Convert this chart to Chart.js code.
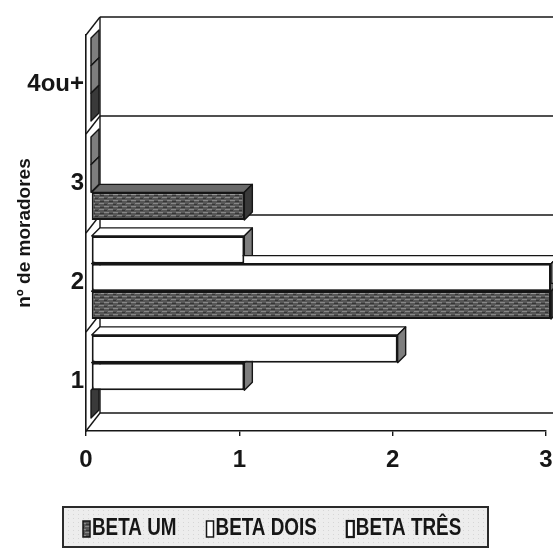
<!DOCTYPE html>
<html>
<head>
<meta charset="utf-8">
<script src="https://cdn.jsdelivr.net/npm/chart.js@4.4.1/dist/chart.umd.min.js"></script>
<style>
  html, body { margin: 0; padding: 0; background: #fff; }
  #wrap { width: 553px; height: 552px; }
  canvas { display: block; }
</style>
</head>
<body>
<div id="wrap"><canvas id="c" width="553" height="552"></canvas></div>
<script>
// Number of residents per household, by group
const categories = ['1', '2', '3', '4ou+'];
const seriesNames = ['BETA UM', 'BETA DOIS', 'BETA TRÊS'];
const betaUm   = [0, 3, 1, 0];
const betaDois = [1, 3, 0, 0];
const betaTres = [2, 1, 0, 0];
const valueTicks = [0, 1, 2, 3];
const axisTitle = 'nº de moradores';

const FONT = '"Liberation Sans", Arial, sans-serif';
const NARROW = '"Liberation Sans Narrow", "Liberation Sans", Arial, sans-serif';
const INK = '#161616';

const canvas = document.getElementById('c');
const ctx = canvas.getContext('2d');

// mottled dark-grey fill for the first series
function darkFill() {
  const p = document.createElement('canvas');
  p.width = 9; p.height = 6;
  const g = p.getContext('2d');
  g.fillStyle = '#575757'; g.fillRect(0, 0, 9, 6);
  g.fillStyle = '#888'; g.fillRect(0, 1, 5, 1); g.fillRect(4, 4, 5, 1);
  g.fillStyle = '#363636'; g.fillRect(5, 2, 4, 1); g.fillRect(0, 5, 3, 1);
  return ctx.createPattern(p, 'repeat');
}
const DARK = darkFill();

const seriesStyle = [
  { fill: DARK,   top: '#6a6a6a', side: '#3a3a3a' },
  { fill: '#fff', top: '#fff',    side: '#7e7e7e' },
  { fill: '#fff', top: '#fff',    side: '#7e7e7e' }
];

// the category axis runs top to bottom, so feed it reversed;
// the first series is listed last so it sits at the bottom of each group
const rev = a => a.slice().reverse();
const seriesData = [betaUm, betaDois, betaTres];
const datasets = [2, 1, 0].map(i => ({
  label: seriesNames[i],
  data: rev(seriesData[i]),
  backgroundColor: seriesStyle[i].fill,
  borderColor: INK,
  borderWidth: 2,
  borderSkipped: false,
  categoryPercentage: 0.84,
  barPercentage: 1,
  clip: false,
  styleIndex: i
}));

const FRONT = { x: 5, y: -5 };   // bar front plane, relative to the axis plane
const BAR_DEPTH = 8;             // depth of each bar
const WALL = { x: 14, y: -18 };  // back wall offset

function poly(c, pts, fill) {
  c.beginPath();
  c.moveTo(pts[0][0], pts[0][1]);
  for (let i = 1; i < pts.length; i++) c.lineTo(pts[i][0], pts[i][1]);
  c.closePath();
  if (fill) { c.fillStyle = fill; c.fill(); }
  c.stroke();
}
function seg(c, x1, y1, x2, y2) {
  c.beginPath(); c.moveTo(x1, y1); c.lineTo(x2, y2); c.stroke();
}

const depthPlugin = {
  id: 'depth',
  beforeDatasetsDraw(chart) {
    const c = chart.ctx, a = chart.chartArea;
    const xs = chart.scales.x, ys = chart.scales.y;
    const n = ys.ticks.length;
    const band = (a.bottom - a.top) / n;
    const x0 = xs.getPixelForValue(0);

    // back wall, side wall and floor edges
    c.save();
    c.strokeStyle = INK;
    c.lineWidth = 1.4;
    for (let k = 0; k <= n; k++) {
      const yb = a.top + k * band;
      seg(c, x0 + WALL.x, yb + WALL.y, chart.width + 20, yb + WALL.y);
      seg(c, x0, yb, x0 + WALL.x, yb + WALL.y);
    }
    seg(c, x0 + WALL.x, a.top + WALL.y, x0 + WALL.x, a.bottom + WALL.y);
    c.restore();

    // bars: top and end faces first, the library paints the front faces over them
    c.save();
    c.translate(FRONT.x, FRONT.y);
    c.strokeStyle = INK;
    c.lineWidth = 1.4;
    c.lineJoin = 'round';
    chart.data.datasets.forEach((ds, di) => {
      const meta = chart.getDatasetMeta(di);
      const st = seriesStyle[ds.styleIndex];
      meta.data.forEach(el => {
        const p = el.getProps(['x', 'y', 'base', 'height'], true);
        const top = p.y - p.height / 2, bot = p.y + p.height / 2;
        const l = Math.min(p.base, p.x), r = Math.max(p.base, p.x);
        const d = BAR_DEPTH;
        if (r > l) poly(c, [[l, top], [r, top], [r + d, top - d], [l + d, top - d]], st.top);
        poly(c, [[r, top], [r, bot], [r + d, bot - d], [r + d, top - d]], st.side);
      });
    });
  },
  afterDatasetsDraw(chart) {
    chart.ctx.restore();
  }
};

// boxed legend under the plot
const legendPlugin = {
  id: 'boxLegend',
  afterDraw(chart) {
    const c = chart.ctx;
    const bw = 425, bh = 40;
    const bx = Math.round((chart.width - bw) / 2) - 1, by = chart.height - 45;
    c.save();
    c.fillStyle = '#ededed';
    c.fillRect(bx, by, bw, bh);
    c.fillStyle = '#d6d6d6';
    for (let yy = by + 3; yy < by + bh; yy += 4)
      for (let xx = bx + 3 + ((yy - by) % 8 ? 2 : 0); xx < bx + bw; xx += 5) c.fillRect(xx, yy, 1, 1);
    c.strokeStyle = '#2a2a2a';
    c.lineWidth = 2;
    c.strokeRect(bx, by, bw, bh);

    c.font = 'bold 23px ' + NARROW;
    const narrowW = c.measureText('BETA DOIS').width;
    c.font = 'bold 23px ' + FONT;
    const regularW = c.measureText('BETA DOIS').width;
    const squeeze = Math.abs(narrowW - regularW) < 0.5 ? 0.82 : 1;
    c.font = 'bold 23px ' + NARROW;

    const cy = by + bh / 2 + 2;
    let x = bx + 20;
    seriesNames.forEach((name, i) => {
      c.fillStyle = seriesStyle[i].fill;
      c.strokeStyle = INK;
      c.lineWidth = i === 2 ? 2.2 : 1.5;
      c.fillRect(x, cy - 8, 7, 16);
      c.strokeRect(x, cy - 8, 7, 16);
      const tx = x + 9;
      const w = c.measureText(name).width * squeeze;
      c.save();
      c.translate(tx, cy);
      c.scale(squeeze, 1);
      c.fillStyle = INK;
      c.textBaseline = 'middle';
      c.textAlign = 'left';
      c.fillText(name, 0, 0);
      c.restore();
      x = tx + w + 30;
    });
    c.restore();
  }
};

new Chart(canvas, {
  type: 'bar',
  data: { labels: rev(categories), datasets },
  options: {
    indexAxis: 'y',
    responsive: false,
    animation: false,
    devicePixelRatio: 1,
    layout: { padding: { top: 35, right: 7, bottom: 52, left: 0 } },
    plugins: {
      legend: { display: false },
      tooltip: { enabled: false }
    },
    scales: {
      x: {
        type: 'linear',
        min: 0,
        max: 3,
        afterBuildTicks: s => { s.ticks = valueTicks.map(v => ({ value: v })); },
        ticks: {
          font: { family: FONT, size: 24, weight: 'bold' },
          color: INK,
          padding: 10
        },
        grid: { drawOnChartArea: false, drawTicks: true, tickLength: 5, color: INK, lineWidth: 1.4 },
        border: { display: true, color: INK, width: 1.6 },
        afterFit: s => { s.height = 69; s.paddingLeft = 0; s.paddingRight = 0; }
      },
      y: {
        type: 'category',
        ticks: {
          font: { family: FONT, size: 24, weight: 'bold' },
          color: INK,
          padding: 2
        },
        grid: { display: false, drawTicks: false },
        border: { display: true, color: INK, width: 1.6 },
        title: {
          display: true,
          text: axisTitle,
          font: { family: FONT, size: 19, weight: 'bold' },
          color: INK,
          padding: { top: 13, bottom: 0 }
        },
        afterFit: s => { s.width = 86; s.paddingTop = 0; s.paddingBottom = 0; }
      }
    }
  },
  plugins: [depthPlugin, legendPlugin]
});
</script>
</body>
</html>
